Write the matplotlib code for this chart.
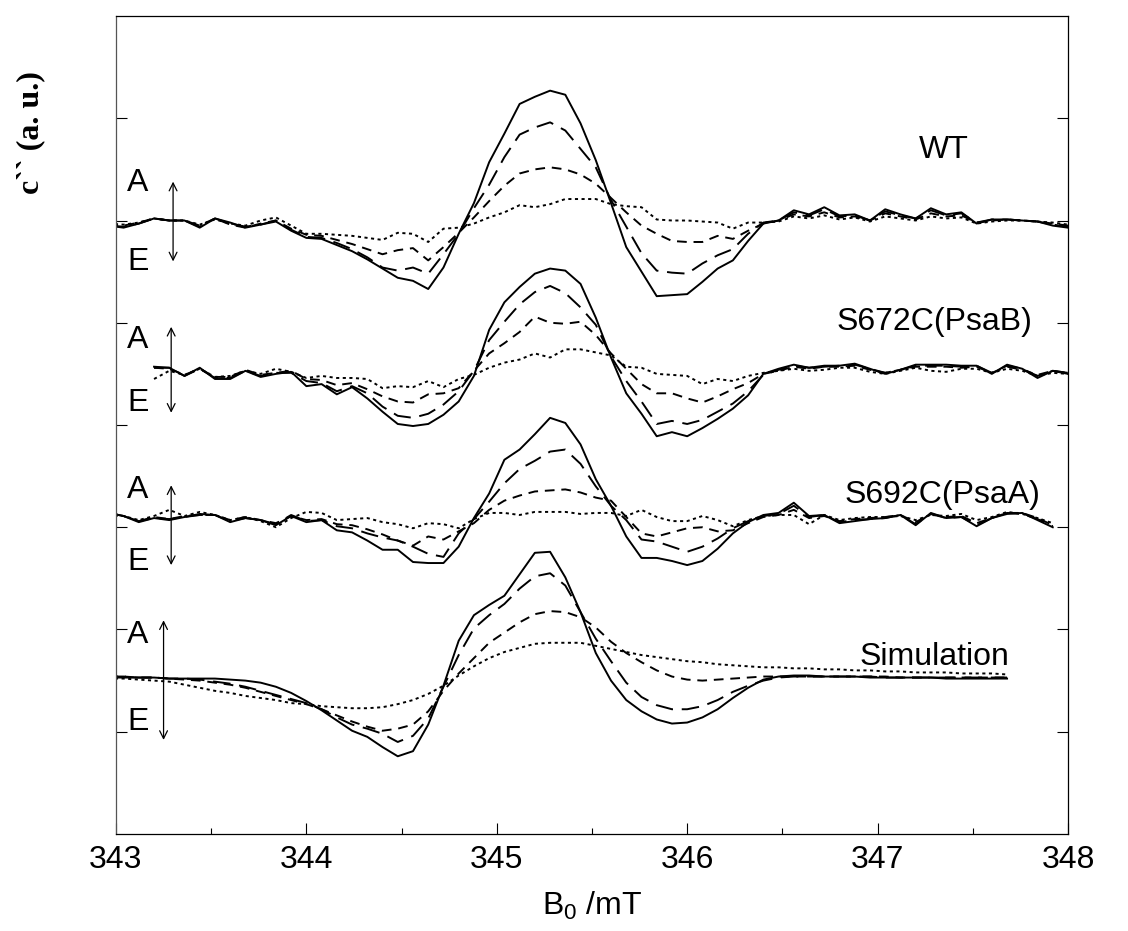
import numpy as np
import matplotlib
matplotlib.use("Agg")
import matplotlib.pyplot as plt
from matplotlib.ticker import MultipleLocator

plt.rcParams['font.family'] = ['Liberation Sans', 'DejaVu Sans']
plt.rcParams['mathtext.fontset'] = 'custom'
plt.rcParams['mathtext.rm'] = 'Liberation Sans'
plt.rcParams['mathtext.default'] = 'regular'

# magnetic field sampling (mT)
FIELD = np.round(342.96 + 0.08 * np.arange(64), 2)

# ---------------- WT (starts at field index 0) ----------------
wt_solid = [-0.05,
            -0.07, -0.03, 0.02, 0.00, 0.00, -0.07, 0.02, -0.02, -0.07, -0.04, -0.01,
            -0.10, -0.17, -0.18, -0.24, -0.30, -0.38, -0.47, -0.56, -0.59, -0.67,
            -0.46, -0.13, 0.17, 0.57, 0.85, 1.14, 1.21, 1.27, 1.23, 0.95,
            0.59, 0.17, -0.26, -0.50, -0.74, -0.73, -0.72, -0.60, -0.47, -0.39, -0.20, -0.03,
            0.00, 0.10, 0.06, 0.13, 0.05, 0.06, 0.00, 0.11, 0.06, 0.02, 0.12, 0.06, 0.08, -0.03,
            0.01, 0.01, 0.00, -0.01, -0.05, -0.07]
wt_long = [-0.05,
           -0.06, -0.03, 0.02, 0.0, 0.0, -0.06, 0.02, -0.03, -0.06, -0.04, 0.0,
           -0.09, -0.16, -0.17, -0.22, -0.28, -0.36, -0.46, -0.49, -0.46, -0.52,
           -0.33, -0.13, 0.12, 0.35, 0.62, 0.84, 0.91, 0.96, 0.88, 0.70,
           0.52, 0.20, -0.06, -0.32, -0.49, -0.51, -0.52, -0.42, -0.34, -0.28, -0.13, -0.02,
           0.0, 0.08, 0.05, 0.11, 0.04, 0.05, 0.0, 0.09, 0.05, 0.02, 0.10, 0.05, 0.07, -0.02,
           0.01, 0.01, 0.0, -0.01, -0.04, -0.06]
wt_medium = [-0.04,
             -0.05, -0.02, 0.02, 0.0, 0.0, -0.05, 0.02, -0.04, -0.07, -0.03, 0.0,
             -0.08, -0.14, -0.15, -0.19, -0.23, -0.28, -0.33, -0.29, -0.27, -0.39,
             -0.26, -0.12, 0.03, 0.19, 0.34, 0.46, 0.50, 0.52, 0.50, 0.45,
             0.36, 0.22, 0.08, -0.05, -0.13, -0.20, -0.21, -0.21, -0.15, -0.18, -0.10, -0.03,
             0.0, 0.06, 0.04, 0.08, 0.03, 0.04, 0.0, 0.07, 0.04, 0.01, 0.07, 0.04, 0.05, -0.02,
             0.0, 0.01, 0.0, -0.01, -0.03, -0.05]
wt_dotted = [-0.03,
             -0.04, -0.02, 0.02, 0.0, 0.0, -0.04, 0.01, -0.03, -0.05, 0.0, 0.03,
             -0.05, -0.13, -0.13, -0.14, -0.15, -0.17, -0.19, -0.12, -0.13, -0.21,
             -0.08, -0.07, -0.03, 0.03, 0.08, 0.15, 0.13, 0.16, 0.21, 0.21,
             0.21, 0.16, 0.14, 0.13, 0.01, 0.0, 0.0, -0.01, -0.02, -0.08, -0.02, -0.02,
             -0.01, 0.04, 0.02, 0.05, 0.01, 0.03, -0.01, 0.04, 0.02, 0.0, 0.04, 0.02, 0.03, -0.03,
             -0.01, 0.0, 0.0, -0.01, -0.02, -0.04]

# ---------------- S672C(PsaB) (starts at field index 3) ----------------
s672_solid = [0.04, 0.03, -0.05, 0.03, -0.08, -0.08, 0.0, -0.06, -0.03, -0.01,
              -0.15, -0.13, -0.23, -0.16, -0.27, -0.40, -0.52, -0.54, -0.52, -0.43,
              -0.30, -0.05, 0.40, 0.67, 0.82, 0.95, 1.00, 0.98, 0.85, 0.52,
              0.13, -0.22, -0.42, -0.64, -0.60, -0.64, -0.56, -0.47, -0.37, -0.24, -0.03, 0.02,
              0.06, 0.03, 0.05, 0.05, 0.07, 0.02, -0.03, 0.01, 0.06, 0.06, 0.06, 0.05, 0.05,
              -0.03, 0.06, 0.02, -0.07, 0.0, -0.03]
s672_long = [0.03, 0.03, -0.05, 0.02, -0.07, -0.07, 0.0, -0.05, -0.02, -0.02,
             -0.10, -0.12, -0.20, -0.15, -0.22, -0.35, -0.44, -0.46, -0.42, -0.33,
             -0.20, 0.0, 0.30, 0.48, 0.65, 0.77, 0.83, 0.76, 0.62, 0.45,
             0.14, -0.10, -0.30, -0.52, -0.49, -0.52, -0.48, -0.40, -0.32, -0.20, -0.04, 0.01,
             0.05, 0.03, 0.04, 0.05, 0.06, 0.02, -0.02, 0.01, 0.05, 0.05, 0.05, 0.04, 0.05,
             -0.02, 0.05, 0.02, -0.05, 0.0, -0.02]
s672_medium = [0.03, 0.02, -0.04, 0.02, -0.06, -0.06, 0.01, -0.04, -0.02, 0.0,
               -0.08, -0.09, -0.14, -0.12, -0.18, -0.25, -0.30, -0.31, -0.23, -0.22,
               -0.17, 0.0, 0.17, 0.27, 0.38, 0.53, 0.47, 0.46, 0.48, 0.35,
               0.17, 0.02, -0.13, -0.22, -0.22, -0.27, -0.31, -0.25, -0.18, -0.12, -0.03, 0.0,
               0.04, 0.02, 0.04, 0.04, 0.05, 0.01, -0.02, 0.01, 0.04, 0.04, 0.04, 0.03, 0.04,
               -0.02, 0.04, 0.01, -0.04, 0.0, -0.02]
s672_dotted = [-0.08, 0.0, -0.04, 0.02, -0.06, -0.05, 0.0, -0.03, 0.02, -0.01,
               -0.07, -0.05, -0.07, -0.07, -0.08, -0.17, -0.15, -0.16, -0.10, -0.16,
               -0.08, -0.04, 0.03, 0.08, 0.11, 0.17, 0.13, 0.21, 0.21, 0.18,
               0.15, 0.04, 0.03, -0.03, -0.04, -0.05, -0.13, -0.08, -0.10, -0.05, -0.02, 0.0,
               0.02, 0.0, 0.01, 0.03, 0.03, -0.01, -0.03, 0.0, 0.03, 0.0, -0.01, 0.02, 0.02,
               -0.02, 0.02, 0.0, -0.05, -0.02, -0.03]

# ---------------- S692C(PsaA) (starts at field index 0) ----------------
s692_solid = [0.05, 0.02, -0.04, 0.0, -0.02, 0.01, 0.04, 0.03, -0.04, 0.0,
              -0.02, -0.07, 0.02, -0.04, -0.02, -0.12, -0.14, -0.22, -0.31, -0.31,
              -0.43, -0.44, -0.44, -0.28, 0.0, 0.24, 0.57, 0.67, 0.82, 0.98,
              0.93, 0.72, 0.38, 0.12, -0.18, -0.39, -0.39, -0.42, -0.46, -0.42,
              -0.30, -0.15, -0.04, 0.03, 0.05, 0.15, 0.02, 0.03, -0.05, -0.03,
              -0.01, 0.0, 0.03, -0.07, 0.05, 0.0, 0.01, -0.08, 0.0, 0.04,
              0.05, -0.02, -0.09]
s692_long = [0.05, 0.02, -0.03, 0.0, -0.01, 0.01, 0.03, 0.03, -0.03, 0.0,
             -0.02, -0.06, 0.03, -0.03, -0.02, -0.08, -0.10, -0.15, -0.19, -0.22,
             -0.28, -0.35, -0.38, -0.15, -0.01, 0.16, 0.34, 0.48, 0.56, 0.65,
             0.67, 0.53, 0.31, 0.12, -0.02, -0.21, -0.23, -0.28, -0.33, -0.28,
             -0.20, -0.10, -0.03, 0.02, 0.04, 0.12, 0.01, 0.03, -0.04, -0.02,
             -0.01, 0.0, 0.03, -0.06, 0.04, 0.0, 0.01, -0.07, 0.0, 0.05,
             0.04, -0.01, -0.08]
s692_medium = [0.05, 0.02, -0.03, 0.01, -0.01, 0.02, 0.03, 0.03, -0.02, 0.01,
               -0.02, -0.05, 0.02, -0.02, -0.01, -0.06, -0.07, -0.11, -0.16, -0.22,
               -0.27, -0.18, -0.21, -0.13, -0.05, 0.08, 0.17, 0.22, 0.26, 0.27,
               0.28, 0.25, 0.20, 0.17, 0.01, -0.15, -0.18, -0.14, -0.10, -0.09,
               -0.13, -0.12, -0.05, 0.01, 0.03, 0.08, 0.0, 0.02, -0.03, -0.01,
               0.0, 0.01, 0.03, -0.04, 0.04, 0.01, 0.02, -0.05, 0.0, 0.05,
               0.05, 0.0, -0.07]
s692_dotted = [0.03, 0.02, -0.02, 0.02, 0.08, 0.02, 0.06, 0.03, -0.02, 0.01,
               -0.03, -0.09, 0.0, 0.06, 0.05, -0.02, -0.01, 0.0, -0.04, -0.06,
               -0.10, -0.05, -0.06, -0.10, -0.01, 0.05, 0.05, 0.03, 0.06, 0.06,
               0.06, 0.04, 0.05, 0.05, 0.02, 0.08, 0.01, -0.03, -0.03, 0.02,
               -0.02, -0.08, -0.02, 0.02, 0.03, 0.03, -0.06, 0.03, -0.02, 0.0,
               0.01, 0.01, 0.02, -0.02, 0.03, 0.02, 0.04, -0.02, 0.01, 0.06,
               0.04, 0.0, -0.05]

# ---------------- Simulation (starts at field index 0) ----------------
sim_solid = [0.0, 0.0, 0.0, 0.0, -0.01, -0.01, -0.01, -0.01, -0.02, -0.03,
             -0.05, -0.09, -0.15, -0.23, -0.32, -0.42, -0.52, -0.58, -0.68, -0.77,
             -0.72, -0.46, -0.08, 0.36, 0.61, 0.71, 0.80, 1.01, 1.22, 1.23,
             0.98, 0.64, 0.24, -0.03, -0.22, -0.33, -0.41, -0.45, -0.44, -0.39,
             -0.31, -0.20, -0.10, -0.02, 0.01, 0.02, 0.02, 0.01, 0.01, 0.01,
             0.0, 0.0, 0.0, 0.0, 0.0, -0.01, -0.01, -0.01, -0.01, -0.01]
sim_long = [0.01, 0.01, 0.0, 0.0, -0.01, -0.01, -0.02, -0.04, -0.06, -0.09,
            -0.13, -0.17, -0.21, -0.25, -0.31, -0.39, -0.46, -0.50, -0.55, -0.63,
            -0.57, -0.40, -0.09, 0.22, 0.48, 0.61, 0.72, 0.87, 0.99, 1.02,
            0.90, 0.64, 0.38, 0.16, -0.05, -0.19, -0.27, -0.31, -0.31, -0.28,
            -0.22, -0.14, -0.08, -0.03, 0.0, 0.01, 0.01, 0.01, 0.01, 0.01,
            0.01, 0.0, 0.0, 0.0, 0.0, 0.0, 0.0, 0.0, 0.0, 0.0]
sim_medium = [0.01, 0.01, 0.0, 0.0, -0.01, -0.02, -0.03, -0.05, -0.07, -0.10,
              -0.14, -0.18, -0.22, -0.26, -0.31, -0.37, -0.43, -0.48, -0.52, -0.50,
              -0.46, -0.33, -0.13, 0.04, 0.19, 0.34, 0.44, 0.54, 0.62, 0.65,
              0.64, 0.59, 0.49, 0.35, 0.24, 0.15, 0.07, 0.01, -0.02, -0.03,
              -0.02, -0.01, 0.0, 0.01, 0.01, 0.01, 0.01, 0.01, 0.01, 0.01,
              0.01, 0.01, 0.0, 0.0, 0.0, 0.0, 0.0, 0.0, 0.0, 0.0]
sim_dotted = [-0.01, -0.01, -0.02, -0.03, -0.04, -0.07, -0.10, -0.13, -0.15, -0.18,
              -0.20, -0.22, -0.25, -0.26, -0.28, -0.29, -0.30, -0.30, -0.29, -0.26,
              -0.22, -0.16, -0.08, 0.02, 0.11, 0.19, 0.25, 0.29, 0.33, 0.34,
              0.34, 0.34, 0.31, 0.28, 0.25, 0.22, 0.20, 0.18, 0.16, 0.15,
              0.13, 0.12, 0.11, 0.10, 0.10, 0.09, 0.09, 0.08, 0.08, 0.07,
              0.07, 0.06, 0.06, 0.05, 0.05, 0.05, 0.04, 0.04, 0.04, 0.03]

sample_names = ["WT", "S672C(PsaB)", "S692C(PsaA)", "Simulation"]
series = [
    (wt_solid, wt_long, wt_medium, wt_dotted),
    (s672_solid, s672_long, s672_medium, s672_dotted),
    (s692_solid, s692_long, s692_medium, s692_dotted),
    (sim_solid, sim_long, sim_medium, sim_dotted),
]
start_index = [0, 3, 0, 0]

# layout (positions)
baselines = [6.0, 4.53, 3.09, 1.53]
label_pos = [(347.35, 6.69), (347.30, 5.01), (347.34, 3.32), (347.30, 1.73)]
arrow_x = [343.30, 343.29, 343.29, 343.25]
arrow_span = [(5.60, 6.38), (4.12, 4.96), (2.63, 3.41), (0.92, 2.09)]
A_y = [6.37, 4.83, 3.36, 1.95]
E_y = [5.59, 4.22, 2.66, 1.10]

dash_styles = [
    dict(linestyle='-'),
    dict(linestyle=(0, (9, 4.5))),
    dict(linestyle=(0, (5, 3.5))),
    dict(linestyle=(0, (1.6, 1.8))),
]

fig = plt.figure(figsize=(11.28, 9.31), dpi=100)
ax = fig.add_axes([0.1028, 0.1042, 0.8440, 0.8786])

for p in range(4):
    base = baselines[p]
    s0 = start_index[p]
    for c in range(4):
        vals = np.asarray(series[p][c])
        xs = FIELD[s0:s0 + len(vals)]
        ax.plot(xs, base + vals, color='black', lw=1.4, **dash_styles[c])
    ax.text(label_pos[p][0], label_pos[p][1], sample_names[p], fontsize=23,
            ha='center', va='center')
    ax.annotate('', xy=(arrow_x[p], arrow_span[p][1]), xytext=(arrow_x[p], arrow_span[p][0]),
                arrowprops=dict(arrowstyle='<->', lw=0.9, color='black',
                                shrinkA=0, shrinkB=0, mutation_scale=14))
    ax.text(343.115, A_y[p], 'A', fontsize=23, ha='center', va='center')
    ax.text(343.115, E_y[p], 'E', fontsize=23, ha='center', va='center')

ax.set_xlim(343, 348)
ax.set_ylim(0, 8)
ax.xaxis.set_major_locator(MultipleLocator(1))
ax.xaxis.set_minor_locator(MultipleLocator(0.5))
ax.set_yticks(range(1, 8))
ax.set_yticklabels([])
ax.tick_params(axis='both', which='major', direction='in', length=8, width=0.8,
               top=False, right=True, labelsize=23, pad=8)
ax.tick_params(axis='x', which='minor', direction='in', length=4.5, width=0.8, top=False)
for s in ax.spines.values():
    s.set_linewidth(0.9)
ax.spines['left'].set_color('#555555')

ax.set_xlabel('B$_0$ /mT', fontsize=23, labelpad=11)
fig.text(0.027, 1 - 133 / 931, 'c`` (a. u.)', rotation=90, ha='center', va='center',
         fontsize=23, fontweight='bold', family=['Liberation Serif', 'DejaVu Serif'])

fig.savefig('out.png', dpi=100)
